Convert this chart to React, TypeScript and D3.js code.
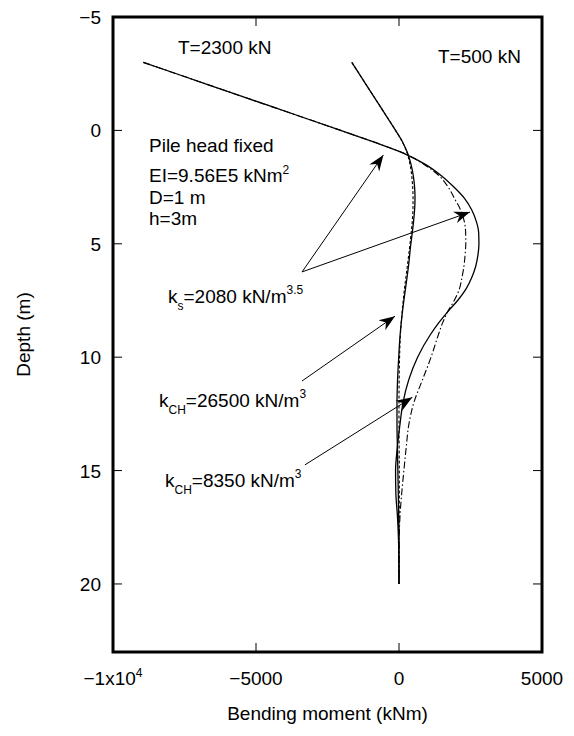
import React from "react";
import * as d3 from "d3";

// Bending moment profiles along the pile (depth in m, moment in kNm)
const depthT2300 = [-3, -2, -1, 0, 0.5, 1, 1.5, 2, 2.5, 3, 3.5, 4, 4.5, 5, 5.5, 6, 6.5, 7, 7.5, 8, 8.5, 9, 10, 11, 12, 13, 14, 15, 16, 17, 18, 19, 20];
const momentT2300Ks = [-8940, -6640, -4340, -2040, -910, 150, 920, 1480, 1920, 2290, 2540, 2700, 2785, 2795, 2760, 2680, 2540, 2340, 2050, 1700, 1380, 1100, 650, 340, 140, 30, -60, -120, -110, -55, -18, -4, 0];
const momentT2300Kch = [-8940, -6640, -4340, -2040, -910, 150, 880, 1400, 1720, 1940, 2150, 2280, 2330, 2335, 2310, 2270, 2200, 2110, 1930, 1700, 1520, 1380, 1120, 820, 520, 340, 250, 170, 95, 35, 8, 0, 0];

const depthT500 = [-3, -2, -1, 0, 0.5, 1, 1.5, 2, 2.5, 3, 3.5, 4, 4.5, 5, 6, 7, 8, 9, 10, 11, 12, 13, 14, 15, 16, 17, 18, 19, 20];
const momentT500Ks = [-1650, -1140, -630, -120, 120, 300, 420, 500, 545, 560, 545, 510, 465, 415, 330, 225, 120, 40, -10, -50, -70, -70, -55, -40, -25, -12, -5, -1, 0];
const momentT500Kch = [-1650, -1140, -630, -120, 115, 285, 385, 445, 478, 492, 488, 465, 428, 385, 290, 190, 110, 50, 20, 5, 0, 0, 5, 10, 10, 5, 0, 0, 0];

// Axis ticks
const xTicks = [-10000, -5000, 0, 5000];
const xTickLabels = ["−1x10", "−5000", "0", "5000"];
const yTicks = [-5, 0, 5, 10, 15, 20];
const yTickLabels = ["−5", "0", "5", "10", "15", "20"];

// Annotation arrows: [moment, depth] start and tip
const ksArrowFrom: [number, number] = [-3390, 6.24];
const ksArrowTips: [number, number][] = [[-545, 1.08], [2483, 3.6]];
const kch26500Arrow: [number, number][] = [[-3390, 11.05], [-140, 8.19]];
const kch8350Arrow: [number, number][] = [[-3290, 14.75], [466, 11.77]];

const W = 574;
const H = 736;
const plot = { left: 113, right: 542, top: 17, bottom: 652 };
const FONT = "'Liberation Sans', Arial, sans-serif";

export default function App() {
  const x = d3.scaleLinear().domain([-10000, 5000]).range([plot.left, plot.right]);
  const y = d3.scaleLinear().domain([-5, 23]).range([plot.top, plot.bottom]);

  const line = d3
    .line<[number, number]>()
    .x((d) => x(d[0]))
    .y((d) => y(d[1]))
    .curve(d3.curveMonotoneY);

  const zip = (m: number[], d: number[]) => m.map((v, i) => [v, d[i]] as [number, number]);

  const curves = [
    { pts: zip(momentT2300Kch, depthT2300), dash: "7,2.5,1.5,2.5", w: 1.1 },
    { pts: zip(momentT500Kch, depthT500), dash: "3,2", w: 1.1 },
    { pts: zip(momentT2300Ks, depthT2300), dash: undefined, w: 1.3 },
    { pts: zip(momentT500Ks, depthT500), dash: undefined, w: 1.3 },
  ];

  const arrows: [number, number][][] = [
    [ksArrowFrom, ksArrowTips[0]],
    [ksArrowFrom, ksArrowTips[1]],
    kch26500Arrow,
    kch8350Arrow,
  ];

  const fs = 19;

  return (
    <svg
      width={W}
      height={H}
      style={{ position: "absolute", left: 0, top: 0, background: "#fff" }}
      fontFamily={FONT}
    >
      <defs>
        <marker
          id="arrowHead"
          markerUnits="userSpaceOnUse"
          markerWidth={20}
          markerHeight={14}
          refX={16}
          refY={7}
          orient="auto"
          viewBox="0 0 20 14"
        >
          <path d="M16,7 L0,1 L5,7 L0,13 Z" fill="#000" />
        </marker>
      </defs>

      {/* curves */}
      {curves.map((c, i) => (
        <path
          key={i}
          d={line(c.pts) || ""}
          fill="none"
          stroke="#000"
          strokeWidth={c.w}
          strokeDasharray={c.dash}
        />
      ))}

      {/* arrows */}
      {arrows.map((a, i) => (
        <line
          key={i}
          x1={x(a[0][0])}
          y1={y(a[0][1])}
          x2={x(a[1][0])}
          y2={y(a[1][1])}
          stroke="#000"
          strokeWidth={1}
          markerEnd="url(#arrowHead)"
        />
      ))}

      {/* ticks */}
      {xTicks.map((t) => (
        <g key={"xt" + t}>
          <line x1={x(t)} x2={x(t)} y1={plot.top} y2={plot.top + 9} stroke="#000" strokeWidth={1} />
          <line x1={x(t)} x2={x(t)} y1={plot.bottom} y2={plot.bottom - 9} stroke="#000" strokeWidth={1} />
        </g>
      ))}
      {yTicks.map((t) => (
        <g key={"yt" + t}>
          <line x1={plot.left} x2={plot.left + 9} y1={y(t)} y2={y(t)} stroke="#000" strokeWidth={1} />
          <line x1={plot.right} x2={plot.right - 9} y1={y(t)} y2={y(t)} stroke="#000" strokeWidth={1} />
        </g>
      ))}

      {/* frame */}
      <rect
        x={plot.left}
        y={plot.top}
        width={plot.right - plot.left}
        height={plot.bottom - plot.top}
        fill="none"
        stroke="#000"
        strokeWidth={3}
      />

      {/* tick labels */}
      {xTicks.map((t, i) => (
        <text key={"xl" + t} x={x(t)} y={685} textAnchor="middle" fontSize={fs}>
          {xTickLabels[i]}
          {i === 0 ? (
            <tspan fontSize={12} dy={-8}>
              4
            </tspan>
          ) : null}
        </text>
      ))}
      {yTicks.map((t, i) => (
        <text key={"yl" + t} x={101} y={y(t) + 7} textAnchor="end" fontSize={fs}>
          {yTickLabels[i]}
        </text>
      ))}

      {/* axis titles */}
      <text x={(plot.left + plot.right) / 2} y={720} textAnchor="middle" fontSize={fs}>
        Bending moment (kNm)
      </text>
      <text transform={`translate(30,${(plot.top + plot.bottom) / 2}) rotate(-90)`} textAnchor="middle" fontSize={fs}>
        Depth (m)
      </text>

      {/* annotations */}
      <text x={178} y={54} fontSize={fs}>T=2300 kN</text>
      <text x={438} y={63} fontSize={fs}>T=500 kN</text>
      <text x={149} y={152} fontSize={fs}>Pile head fixed</text>
      <text x={149} y={182} fontSize={fs}>
        EI=9.56E5 kNm
        <tspan fontSize={12} dy={-8}>2</tspan>
      </text>
      <text x={149} y={204} fontSize={fs}>D=1 m</text>
      <text x={149} y={225} fontSize={fs}>h=3m</text>

      <text x={168} y={303} fontSize={fs}>
        k
        <tspan fontSize={12} dy={7}>s</tspan>
        <tspan dy={-7}>=2080 kN/m</tspan>
        <tspan fontSize={12} dy={-9}>3.5</tspan>
      </text>
      <text x={159} y={407} fontSize={fs}>
        k
        <tspan fontSize={12} dy={7}>CH</tspan>
        <tspan dy={-7}>=26500 kN/m</tspan>
        <tspan fontSize={12} dy={-9}>3</tspan>
      </text>
      <text x={165} y={487} fontSize={fs}>
        k
        <tspan fontSize={12} dy={7}>CH</tspan>
        <tspan dy={-7}>=8350 kN/m</tspan>
        <tspan fontSize={12} dy={-9}>3</tspan>
      </text>
    </svg>
  );
}
